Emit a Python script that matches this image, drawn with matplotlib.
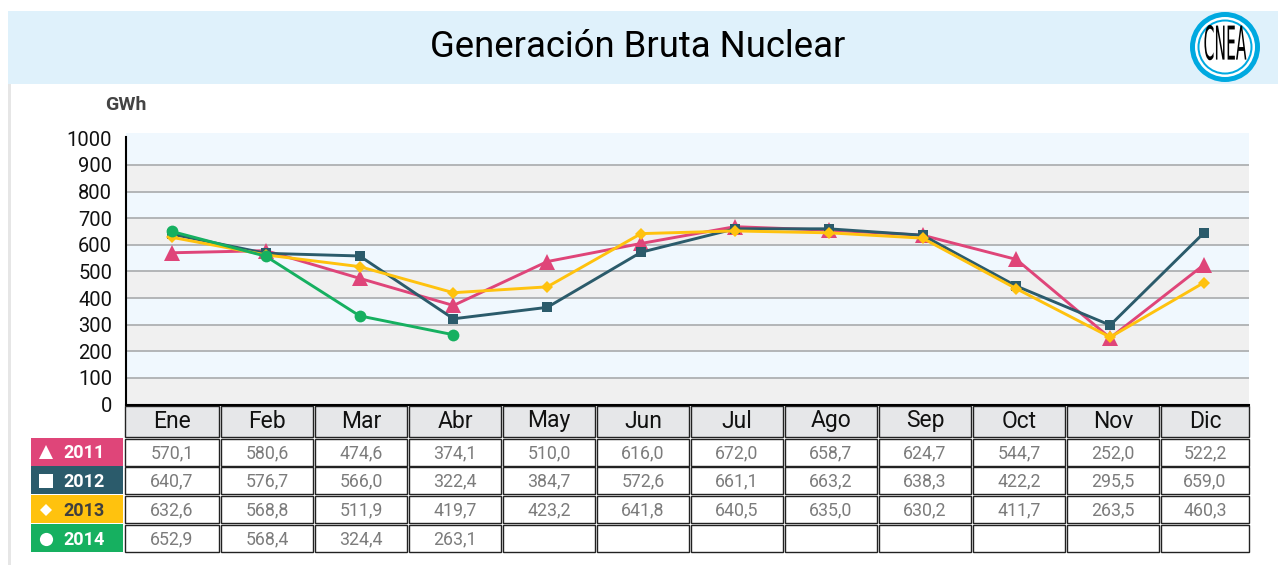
import matplotlib
matplotlib.use("Agg")
import matplotlib.pyplot as plt
import matplotlib.patheffects as pe
from matplotlib.patches import Rectangle, Circle
from matplotlib.transforms import Affine2D

plt.rcParams['font.family'] = ['Roboto', 'DejaVu Sans']

meses = ['Ene', 'Feb', 'Mar', 'Abr', 'May', 'Jun', 'Jul', 'Ago', 'Sep', 'Oct', 'Nov', 'Dic']
anios = ['2011', '2012', '2013', '2014']

# values as drawn by the lines (they differ a little from the table)
linea_2011 = [570, 578, 474, 372, 537, 605, 668, 655, 636, 545, 250, 525]
linea_2012 = [640, 568, 558, 322, 365, 572, 660, 660, 636, 445, 298, 645]
linea_2013 = [628, 562, 518, 420, 442, 642, 652, 645, 625, 435, 253, 458]
linea_2014 = [650, 557, 333, 262]

# table text
tabla_2011 = ['570,1', '580,6', '474,6', '374,1', '510,0', '616,0', '672,0', '658,7', '624,7', '544,7', '252,0', '522,2']
tabla_2012 = ['640,7', '576,7', '566,0', '322,4', '384,7', '572,6', '661,1', '663,2', '638,3', '422,2', '295,5', '659,0']
tabla_2013 = ['632,6', '568,8', '511,9', '419,7', '423,2', '641,8', '640,5', '635,0', '630,2', '411,7', '263,5', '460,3']
tabla_2014 = ['652,9', '568,4', '324,4', '263,1', '', '', '', '', '', '', '', '']

rosa = '#DF4579'
azul = '#2B5B6B'
amarillo = '#FFC20E'
verde = '#16B060'

W, H = 1278, 565
fig = plt.figure(figsize=(W / 100, H / 100), dpi=100, facecolor='white')


# stretches the logo letters around the logo centre, they stay a normal text object
class Estirar(pe.AbstractPathEffect):
    def draw_path(self, renderer, gc, tpath, affine, rgbFace=None):
        t = Affine2D().translate(-1225, -(H - 47)).scale(0.7, 2.1).translate(1225, H - 47)
        renderer.draw_path(gc, tpath, affine + t, rgbFace)


# overlay in pixel coordinates for header, logo and table
bg = fig.add_axes([0, 0, 1, 1])
bg.set_xlim(0, W)
bg.set_ylim(H, 0)
bg.axis('off')

bg.add_patch(Rectangle((8, 11), W - 8, 73, fc='#DFF1FB', ec='none'))
bg.add_patch(Rectangle((8, 84), 3, H - 84, fc='#E6E6E6', ec='none'))
bg.text(638, 57, 'Generación Bruta Nuclear', fontsize=26.3, ha='center', va='baseline', color='black')
bg.text(126, 110, 'GWh', fontsize=14, fontweight='bold', ha='center', va='baseline', color='#444444')

# logo
bg.add_patch(Circle((1225, 47), 35, fc='#00A9E0', ec='none'))
bg.add_patch(Circle((1225, 47), 30, fc='white', ec='none'))
bg.add_patch(Circle((1225, 47), 27.5, fc='#00A9E0', ec='none'))
bg.add_patch(Circle((1225, 47), 25.5, fc='white', ec='none'))
logo = bg.text(1225, 47, 'CNEA', fontsize=16, ha='center', va='center',
               color='black', family='DejaVu Sans')
logo.set_path_effects([Estirar()])

# chart
ax = fig.add_axes([126 / W, 1 - 404.5 / H, (1249 - 126) / W, (404.5 - 133) / H])
ax.set_xlim(-0.49, 11.48)
ax.set_ylim(0, 1020)
ax.set_facecolor('#F0F8FE')
for base in range(0, 900, 200):
    ax.axhspan(base, base + 100, color='#F0F0F0', lw=0, zorder=0)
ax.set_yticks(range(0, 1001, 100))
ax.set_xticks([])
ax.yaxis.grid(True, color='#AEB0B2', lw=1.3, zorder=1)
ax.yaxis.get_gridlines()[-1].set_visible(False)  # no line at 1000
ax.set_axisbelow(True)
ax.tick_params(axis='y', length=0, labelsize=14.5, pad=10, labelcolor='#111111')
for s in ['top', 'right']:
    ax.spines[s].set_visible(False)
ax.spines['left'].set_linewidth(1.5)
ax.spines['left'].set_bounds(0, 1005)
ax.spines['bottom'].set_linewidth(1.5)

ax.plot(range(12), linea_2011, color=rosa, lw=2.1, marker='^', ms=11, mew=0, zorder=3, clip_on=False)
ax.plot(range(12), linea_2012, color=azul, lw=2.1, marker='s', ms=7.5, mew=0, zorder=4, clip_on=False)
ax.plot(range(12), linea_2013, color=amarillo, lw=2.1, marker='D', ms=6.2, mew=0, zorder=5, clip_on=False)
ax.plot(range(4), linea_2014, color=verde, lw=2.1, marker='o', ms=8.5, mew=0, zorder=6, clip_on=False)

# table
col_x = [125, 221, 315, 409, 503, 597, 691, 785, 879, 973, 1067, 1161]
col_w = [94, 92, 92, 92, 92, 92, 92, 92, 92, 92, 92, 88]
for x, w, m in zip(col_x, col_w, meses):
    bg.add_patch(Rectangle((x, 406), w, 31, fc='#E6E7E9', ec='#222222', lw=1))
    bg.text(x + w / 2, 427.5, m, fontsize=16.5, ha='center', va='baseline', color='#111111')

fila_y = [438.5, 467, 496, 525]
fila_h = 27
filas = [tabla_2011, tabla_2012, tabla_2013, tabla_2014]
colores = [rosa, azul, amarillo, verde]
marcas = ['^', 's', 'D', 'o']
color_anio = ['white', 'white', '#3F3F3F', 'white']
tam_marca = [10, 9.4, 6.5, 9.5]
for y, fila, c, mk, anio, ca, tm in zip(fila_y, filas, colores, marcas, anios, color_anio, tam_marca):
    bg.add_patch(Rectangle((31, y - 1), 92, fila_h + 1, fc=c, ec='none'))
    bg.plot([46], [y + fila_h / 2], marker=mk, color='white', ms=tm, mew=0, ls='none')
    bg.text(84, y + 20, anio, fontsize=13, fontweight='bold', ha='center', va='baseline', color=ca)
    for x, w, t in zip(col_x, col_w, fila):
        bg.add_patch(Rectangle((x, y), w, fila_h, fc='white', ec='#222222', lw=1))
        bg.text(x + w / 2, y + 19.5, t, fontsize=12.8, ha='center', va='baseline', color='#7C7C7C')

fig.savefig('out.png', dpi=100)
